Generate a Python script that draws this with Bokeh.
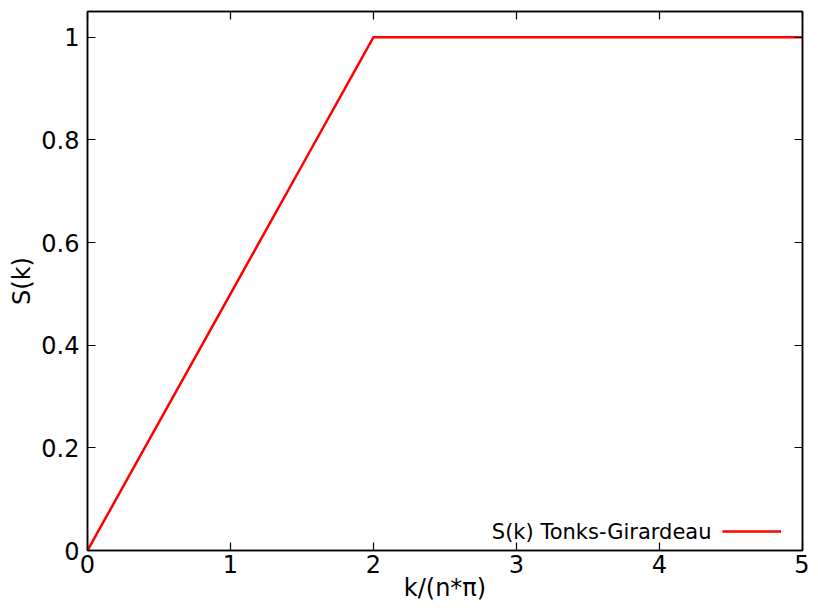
from bokeh.plotting import figure
from bokeh.models import (Range1d, LinearAxis, FixedTicker, Legend, LegendItem, Label)
from bokeh.embed import file_html
from bokeh.resources import INLINE

# data
k_over_npi = [0, 0.5, 1, 1.5, 2, 3, 4, 5]
s_k = [0, 0.25, 0.5, 0.75, 1, 1, 1, 1]
x_ticks = [0, 1, 2, 3, 4, 5]
x_tick_labels = ["0", "1", "2", "3", "4", "5"]
y_ticks = [0, 0.2, 0.4, 0.6, 0.8, 1.0]
y_tick_labels = ["0", "0.2", "0.4", "0.6", "0.8", "1"]
series_name = "S(k) Tonks-Girardeau"

FONT = "DejaVu Sans"

p = figure(width=809, height=609, output_backend="svg", toolbar_location=None,
           x_range=Range1d(0, 5), y_range=Range1d(0, 1.05),
           min_border_left=87, min_border_right=7, min_border_top=11, min_border_bottom=59)
p.grid.visible = False
p.outline_line_color = "black"
p.outline_line_width = 1.5
p.background_fill_color = "white"
p.border_fill_color = "white"

r = p.line(k_over_npi, s_k, line_color="#ff0000", line_width=2.5)


def style_axis(ax, ticks, labels, show_labels=True):
    ax.ticker = FixedTicker(ticks=ticks)
    ax.axis_line_color = "black"
    ax.axis_line_width = 1.5
    ax.major_tick_in = 8
    ax.major_tick_out = 0
    ax.major_tick_line_color = "black"
    ax.major_tick_line_width = 1.2
    ax.minor_tick_in = 0
    ax.minor_tick_out = 0
    ax.major_label_text_font = FONT
    ax.major_label_text_color = "black"
    if show_labels:
        ax.major_label_overrides = {t: l for t, l in zip(ticks, labels)}
        ax.major_label_text_font_size = "24px"
    else:
        ax.major_label_overrides = {t: "" for t in ticks}
        ax.major_label_text_font_size = "1px"
        ax.major_label_standoff = 0
    ax.axis_label_text_font = FONT
    ax.axis_label_text_font_size = "24px"
    ax.axis_label_text_font_style = "normal"
    ax.axis_label_text_color = "black"


style_axis(p.xaxis[0], x_ticks, x_tick_labels)
style_axis(p.yaxis[0], y_ticks, y_tick_labels)
p.xaxis[0].axis_label = "k/(n*π)"
p.yaxis[0].axis_label = "S(k)"
p.xaxis[0].major_label_standoff = 4
p.xaxis[0].axis_label_standoff = -2
p.yaxis[0].major_label_standoff = 8
p.yaxis[0].axis_label_standoff = 2

top_ax = LinearAxis()
style_axis(top_ax, x_ticks, x_tick_labels, show_labels=False)
p.add_layout(top_ax, "above")
right_ax = LinearAxis()
style_axis(right_ax, y_ticks, y_tick_labels, show_labels=False)
p.add_layout(right_ax, "right")

# legend: text to the left of the line sample
leg = Legend(items=[LegendItem(label=" ", renderers=[r])], location=(635, 9),
             glyph_width=59, glyph_height=20, label_width=0, label_standoff=0,
             padding=0, margin=0, spacing=0, border_line_alpha=0,
             background_fill_alpha=0, label_text_font_size="1px")
p.add_layout(leg, "center")
p.add_layout(Label(x=4.364, y=0.036, text=series_name, text_align="right",
                   text_baseline="middle", text_font=FONT, text_font_size="21px",
                   text_color="black"))

open("out.html", "w").write(file_html(p, INLINE))
